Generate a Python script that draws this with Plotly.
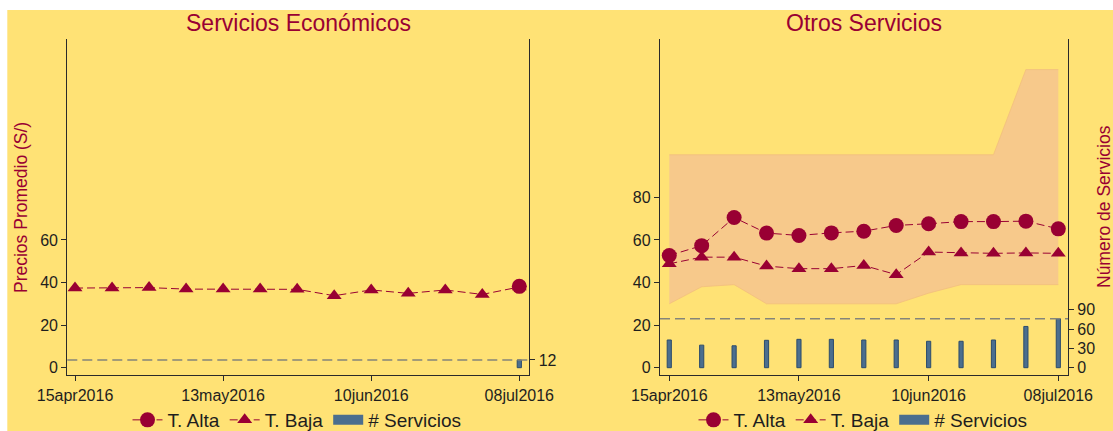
import plotly.graph_objects as go
import pandas as pd

# ---------------- data ----------------
fechas = pd.date_range("2016-04-15", periods=13, freq="7D")
tick_fechas = ["2016-04-15", "2016-05-13", "2016-06-10", "2016-07-08"]
tick_labels = ["15apr2016", "13may2016", "10jun2016", "08jul2016"]

# Servicios Económicos
econ_alta = [None] * 12 + [38.2]
econ_baja = [37.4, 37.4, 37.6, 36.9, 36.9, 36.9, 36.8, 33.8, 36.5, 34.9, 36.5, 34.4, 37.9]
econ_serv = [None] * 12 + [12]

# Otros Servicios
otros_alta = [52.7, 57.3, 70.5, 63.2, 62.1, 63.3, 64.1, 66.8, 67.6, 68.6, 68.6, 68.8, 65.2]
otros_baja = [48.8, 51.9, 51.9, 47.7, 46.5, 46.5, 48.0, 43.7, 54.3, 53.9, 53.7, 53.9, 53.7]
otros_min = [30, 38, 39, 30, 30, 30, 30, 30, 35, 39, 39, 39, 39]
otros_max = [100, 100, 100, 100, 100, 100, 100, 100, 100, 100, 100, 140, 140]
otros_serv = [43, 35, 34, 42.5, 44, 44, 43, 43, 41, 41, 43, 64, 76]

y_ticks_econ = [0, 20, 40, 60]
y_ticks_otros = [0, 20, 40, 60, 80]
y2_ticks_econ = [12]
y2_ticks_otros = [0, 30, 60, 90]

# ---------------- style ----------------
W, H = 1113, 431
YELLOW = "#FFE275"
CRIMSON = "#990033"
BAR = "#4B6E8E"
BAR_EDGE = "#2C4C6C"
BAND = "#F7C98B"
AXIS = "#2a2a2a"
TXT = "#1e1e1e"
FONT = "Liberation Sans, Arial, sans-serif"


def fx(p):
    return p / W


def fy(p):
    return 1 - p / H


day = pd.Timedelta(days=1)
left_dom = [fx(67.3), fx(529.3)]
right_dom = [fx(660), fx(1068)]
ydom = [fy(375.3), fy(39.3)]
y_range = [-3.57, 154.2]
y2_range = [-11.8, 509.6]
left_xr = [fechas[0] - 1.46 * day, fechas[-1] + 1.89 * day]
right_xr = [fechas[0] - 2.0 * day, fechas[-1] + 2.09 * day]

fig = go.Figure()

# ---- left panel ----
fig.add_trace(go.Bar(x=fechas, y=econ_serv, xaxis="x", yaxis="y2",
                     width=0.8 * 86400000, marker=dict(color=BAR, line=dict(color=BAR_EDGE, width=1)),
                     showlegend=False, legend="legend"))
fig.add_trace(go.Scatter(x=fechas, y=econ_baja, xaxis="x", yaxis="y", name="T. Baja",
                         mode="lines+markers", legend="legend", legendrank=2,
                         line=dict(color=CRIMSON, width=1, dash="8px,4px"),
                         marker=dict(symbol="triangle-up", size=13, color=CRIMSON)))
fig.add_trace(go.Scatter(x=fechas, y=econ_alta, xaxis="x", yaxis="y", name="T. Alta",
                         mode="lines+markers", legend="legend", legendrank=1,
                         line=dict(color=CRIMSON, width=1, dash="8px,4px"),
                         marker=dict(symbol="circle", size=15, color=CRIMSON)))
fig.add_trace(go.Scatter(x=[None], y=[None], xaxis="x", yaxis="y2", name="# Servicios",
                         mode="lines", legend="legend", legendrank=3,
                         line=dict(color=BAR, width=11)))

# ---- right panel ----
fig.add_trace(go.Scatter(x=fechas, y=otros_min, xaxis="x2", yaxis="y3", mode="lines",
                         line=dict(color="#F3BF7E", width=0.8), showlegend=False,
                         hoverinfo="skip", legend="legend2"))
fig.add_trace(go.Scatter(x=fechas, y=otros_max, xaxis="x2", yaxis="y3", mode="lines",
                         fill="tonexty", fillcolor=BAND, legend="legend2",
                         line=dict(color="#F3BF7E", width=0.8), showlegend=False, hoverinfo="skip"))
fig.add_trace(go.Bar(x=fechas, y=otros_serv, xaxis="x2", yaxis="y4",
                     width=0.9 * 86400000, marker=dict(color=BAR, line=dict(color=BAR_EDGE, width=1)),
                     showlegend=False, legend="legend2"))
fig.add_trace(go.Scatter(x=fechas, y=otros_baja, xaxis="x2", yaxis="y3", name="T. Baja",
                         mode="lines+markers", legend="legend2", legendrank=2,
                         line=dict(color=CRIMSON, width=1, dash="8px,4px"),
                         marker=dict(symbol="triangle-up", size=13, color=CRIMSON)))
fig.add_trace(go.Scatter(x=fechas, y=otros_alta, xaxis="x2", yaxis="y3", name="T. Alta",
                         mode="lines+markers", legend="legend2", legendrank=1,
                         line=dict(color=CRIMSON, width=1, dash="8px,4px"),
                         marker=dict(symbol="circle", size=15, color=CRIMSON)))
fig.add_trace(go.Scatter(x=[None], y=[None], xaxis="x2", yaxis="y4", name="# Servicios",
                         mode="lines", legend="legend2", legendrank=3,
                         line=dict(color=BAR, width=11)))

common_x = dict(type="date", tickvals=tick_fechas, ticktext=tick_labels, ticks="outside",
                ticklen=5, tickcolor=AXIS, showline=True, linecolor=AXIS, linewidth=1.3,
                showgrid=False, zeroline=False, automargin=False,
                tickfont=dict(size=16, color=TXT, family=FONT))
common_y = dict(ticks="outside", ticklen=5, tickcolor=AXIS, showline=True, linecolor=AXIS,
                linewidth=1.3, showgrid=False, zeroline=False, automargin=False,
                tickfont=dict(size=16, color=TXT, family=FONT))

legend_common = dict(orientation="h", xanchor="center", yanchor="middle", y=fy(420),
                     traceorder="normal",
                     bgcolor="rgba(0,0,0,0)", font=dict(size=19, color=TXT, family=FONT),
                     itemclick=False)

fig.update_layout(
    width=W, height=H,
    margin=dict(l=0, r=0, t=0, b=0, pad=0, autoexpand=False),
    paper_bgcolor="white",
    plot_bgcolor="rgba(0,0,0,0)",
    font=dict(family=FONT),
    barmode="overlay",
    xaxis=dict(domain=left_dom, anchor="y", range=left_xr, **common_x),
    yaxis=dict(domain=ydom, anchor="x", range=y_range, tickvals=y_ticks_econ, **common_y),
    yaxis2=dict(overlaying="y", side="right", anchor="x", range=y2_range,
                tickvals=y2_ticks_econ, **common_y),
    xaxis2=dict(domain=right_dom, anchor="y3", range=right_xr, **common_x),
    yaxis3=dict(domain=ydom, anchor="x2", range=y_range, tickvals=y_ticks_otros, **common_y),
    yaxis4=dict(overlaying="y3", side="right", anchor="x2", range=y2_range,
                tickvals=y2_ticks_otros, **common_y),
    legend=dict(x=fx(297), **legend_common),
    legend2=dict(x=fx(863), **legend_common),
    showlegend=True,
)

# yellow background with thin white strip at top and left, as in the reference
fig.add_shape(type="rect", xref="paper", yref="paper", x0=fx(7.3), x1=1, y0=0, y1=fy(10),
              fillcolor=YELLOW, line=dict(width=0), layer="below")

# dashed reference lines at the maximum number of services
econ_max = max(v for v in econ_serv if v is not None)
otros_maxserv = max(otros_serv)
fig.add_shape(type="line", xref="x domain", yref="y2", x0=0, x1=1, y0=econ_max, y1=econ_max,
              line=dict(color="#85857a", width=1.5, dash="10px,5px"))
fig.add_shape(type="line", xref="x2 domain", yref="y4", x0=0, x1=1, y0=otros_maxserv, y1=otros_maxserv,
              line=dict(color="#85857a", width=1.5, dash="10px,5px"))

ann = [
    dict(text="Servicios Económicos", x=fx(298.3), y=fy(23), xref="paper", yref="paper",
         showarrow=False, font=dict(size=23, color=CRIMSON, family=FONT), xanchor="center", yanchor="middle"),
    dict(text="Otros Servicios", x=fx(864), y=fy(23), xref="paper", yref="paper",
         showarrow=False, font=dict(size=23, color=CRIMSON, family=FONT), xanchor="center", yanchor="middle"),
    dict(text="Precios Promedio (S/)", x=fx(21), y=fy(208), xref="paper", yref="paper", textangle=-90,
         showarrow=False, font=dict(size=17.5, color=CRIMSON, family=FONT), xanchor="center", yanchor="middle"),
    dict(text="Número de Servicios", x=fx(1104), y=fy(207), xref="paper", yref="paper", textangle=-90,
         showarrow=False, font=dict(size=17.5, color=CRIMSON, family=FONT), xanchor="center", yanchor="middle"),
]
fig.update_layout(annotations=ann)

fig.write_html("out.html", config={"displayModeBar": False},
               post_script="document.body.style.margin='0px';document.body.style.overflow='hidden';")
